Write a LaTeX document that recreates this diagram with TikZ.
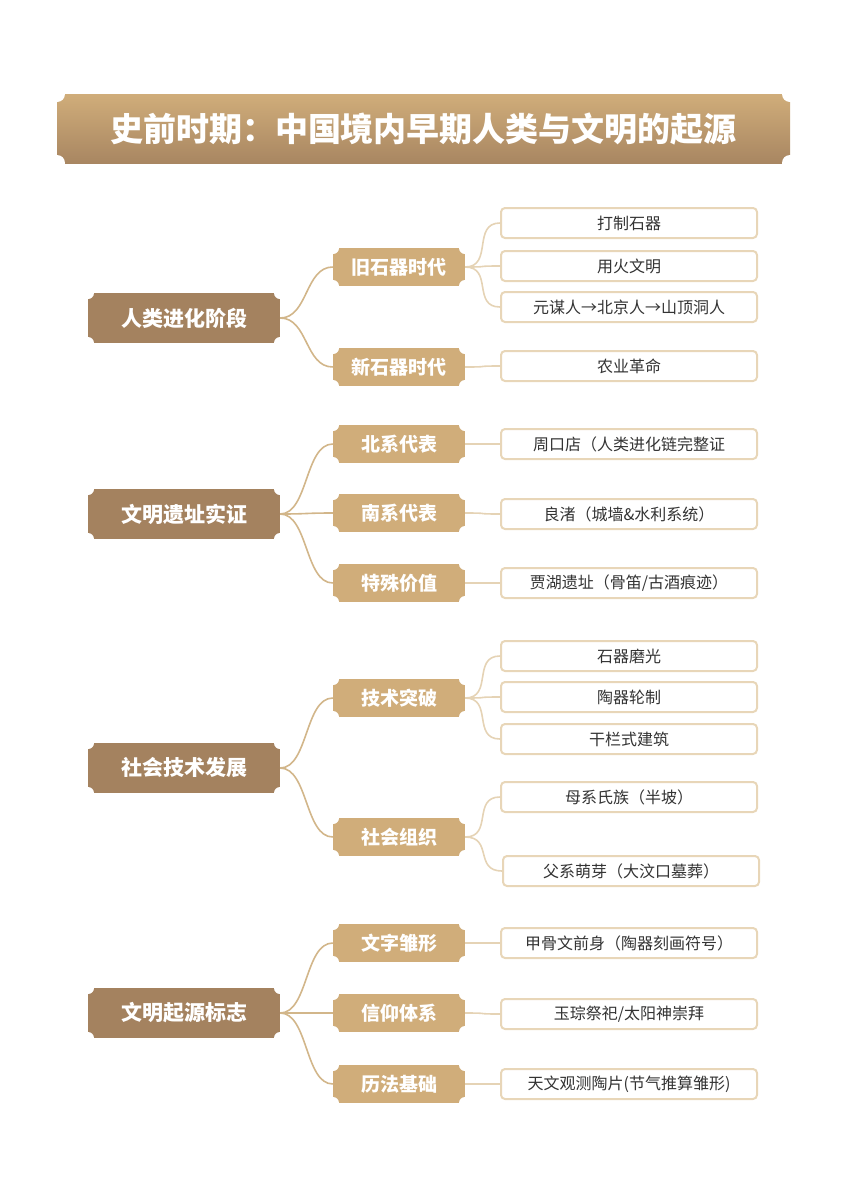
\documentclass[tikz,border=0pt]{standalone}
\usepackage{fontspec}
\setmainfont{Noto Sans CJK SC}
\usetikzlibrary{shadings}
\definecolor{rootc}{HTML}{A4825F}
\definecolor{midc}{HTML}{D0AD7A}
\definecolor{leafb}{HTML}{E8D6B8}
\definecolor{linec}{HTML}{D2B68A}
\definecolor{linel}{HTML}{E5D3B5}
\definecolor{txt}{HTML}{333333}
\newcommand\tkt[7]{%
 \fill[#6] ({#2-#4/2},{#3-#5/2}) rectangle ({#2+#4/2},{#3+#5/2});
 \foreach \sx in {-1,1}{\foreach \sy in {-1,1}{\fill[white] ({#2+\sx*#4/2},{#3+\sy*#5/2}) circle (6);}}
 \node[name=#1,minimum width=#4,minimum height=#5,inner sep=0,text=white,font=\bfseries] at (#2,#3) {#7};}
\newcommand\leaf[5]{% name cx cy w text
 \node[name=#1,draw=leafb,line width=2pt,rounded corners=4pt,fill=white,minimum width=#4,minimum height=30,inner sep=0,text=txt,font=\fontsize{16}{18}\selectfont] at (#2,#3) {#5};}
\tikzset{c1/.style={draw=linec,line width=1.6pt},c2/.style={draw=linel,line width=1.6pt}}
\newcommand\conn[3]{\draw[#3] (#1.east) .. controls +(28,0) and +(-28,0) .. (#2.west);}
\begin{document}
\begin{tikzpicture}[x=1pt,y=-1pt]
\useasboundingbox (0,0) rectangle (848,1200);
% title
\shade[top color=midc,bottom color=rootc!90!midc] (57,94) rectangle (790,163);
\foreach \p in {(57,94),(790,94),(57,163),(790,163)} \fill[white] \p circle (8);
\node[name=title,text=white,font=\fontsize{33}{36}\selectfont\bfseries] at (423.5,129) {史前时期：中国境内早期人类与文明的起源};
\def\rw{192}\def\rh{50}\def\mw{132}\def\mh{38}
% section 1
\tkt{r1}{184}{318}{\rw}{\rh}{rootc}{\fontsize{21}{24}\selectfont 人类进化阶段}
\tkt{m11}{399}{267}{\mw}{\mh}{midc}{\fontsize{19}{22}\selectfont 旧石器时代}
\tkt{m12}{399}{367}{\mw}{\mh}{midc}{\fontsize{19}{22}\selectfont 新石器时代}
\leaf{l111}{629}{223}{256}{打制石器}
\leaf{l112}{629}{266}{256}{用火文明}
\leaf{l113}{629}{307}{256}{元谋人→北京人→山顶洞人}
\leaf{l121}{629}{366}{256}{农业革命}
\conn{r1}{m11}{c1}\conn{r1}{m12}{c1}
\conn{m11}{l111}{c2}\conn{m11}{l112}{c2}\conn{m11}{l113}{c2}\conn{m12}{l121}{c2}
% section 2
\tkt{r2}{184}{514}{\rw}{\rh}{rootc}{\fontsize{21}{24}\selectfont 文明遗址实证}
\tkt{m21}{399}{444}{\mw}{\mh}{midc}{\fontsize{19}{22}\selectfont 北系代表}
\tkt{m22}{399}{513}{\mw}{\mh}{midc}{\fontsize{19}{22}\selectfont 南系代表}
\tkt{m23}{399}{583}{\mw}{\mh}{midc}{\fontsize{19}{22}\selectfont 特殊价值}
\leaf{l21}{629}{444}{256}{周口店（人类进化链完整证}
\leaf{l22}{629}{514}{256}{良渚（城墙\&水利系统）}
\leaf{l23}{629}{583}{256}{贾湖遗址（骨笛/古酒痕迹）}
\conn{r2}{m21}{c1}\conn{r2}{m22}{c1}\conn{r2}{m23}{c1}
\conn{m21}{l21}{c2}\conn{m22}{l22}{c2}\conn{m23}{l23}{c2}
% section 3
\tkt{r3}{184}{768}{\rw}{\rh}{rootc}{\fontsize{21}{24}\selectfont 社会技术发展}
\tkt{m31}{399}{698}{\mw}{\mh}{midc}{\fontsize{19}{22}\selectfont 技术突破}
\tkt{m32}{399}{837}{\mw}{\mh}{midc}{\fontsize{19}{22}\selectfont 社会组织}
\leaf{l311}{629}{656}{256}{石器磨光}
\leaf{l312}{629}{697}{256}{陶器轮制}
\leaf{l313}{629}{739}{256}{干栏式建筑}
\leaf{l321}{629}{797}{256}{母系氏族（半坡）}
\leaf{l322}{631}{871}{256}{父系萌芽（大汶口墓葬）}
\conn{r3}{m31}{c1}\conn{r3}{m32}{c1}
\conn{m31}{l311}{c2}\conn{m31}{l312}{c2}\conn{m31}{l313}{c2}\conn{m32}{l321}{c2}\conn{m32}{l322}{c2}
% section 4
\tkt{r4}{184}{1013}{\rw}{\rh}{rootc}{\fontsize{21}{24}\selectfont 文明起源标志}
\tkt{m41}{399}{943}{\mw}{\mh}{midc}{\fontsize{19}{22}\selectfont 文字雏形}
\tkt{m42}{399}{1013}{\mw}{\mh}{midc}{\fontsize{19}{22}\selectfont 信仰体系}
\tkt{m43}{399}{1084}{\mw}{\mh}{midc}{\fontsize{19}{22}\selectfont 历法基础}
\leaf{l41}{629}{943}{256}{甲骨文前身（陶器刻画符号）}
\leaf{l42}{629}{1014}{256}{玉琮祭祀/太阳神崇拜}
\leaf{l43}{629}{1084}{256}{天文观测陶片(节气推算雏形)}
\conn{r4}{m41}{c1}\conn{r4}{m42}{c1}\conn{r4}{m43}{c1}
\conn{m41}{l41}{c2}\conn{m42}{l42}{c2}\conn{m43}{l43}{c2}
\end{tikzpicture}
\end{document}
